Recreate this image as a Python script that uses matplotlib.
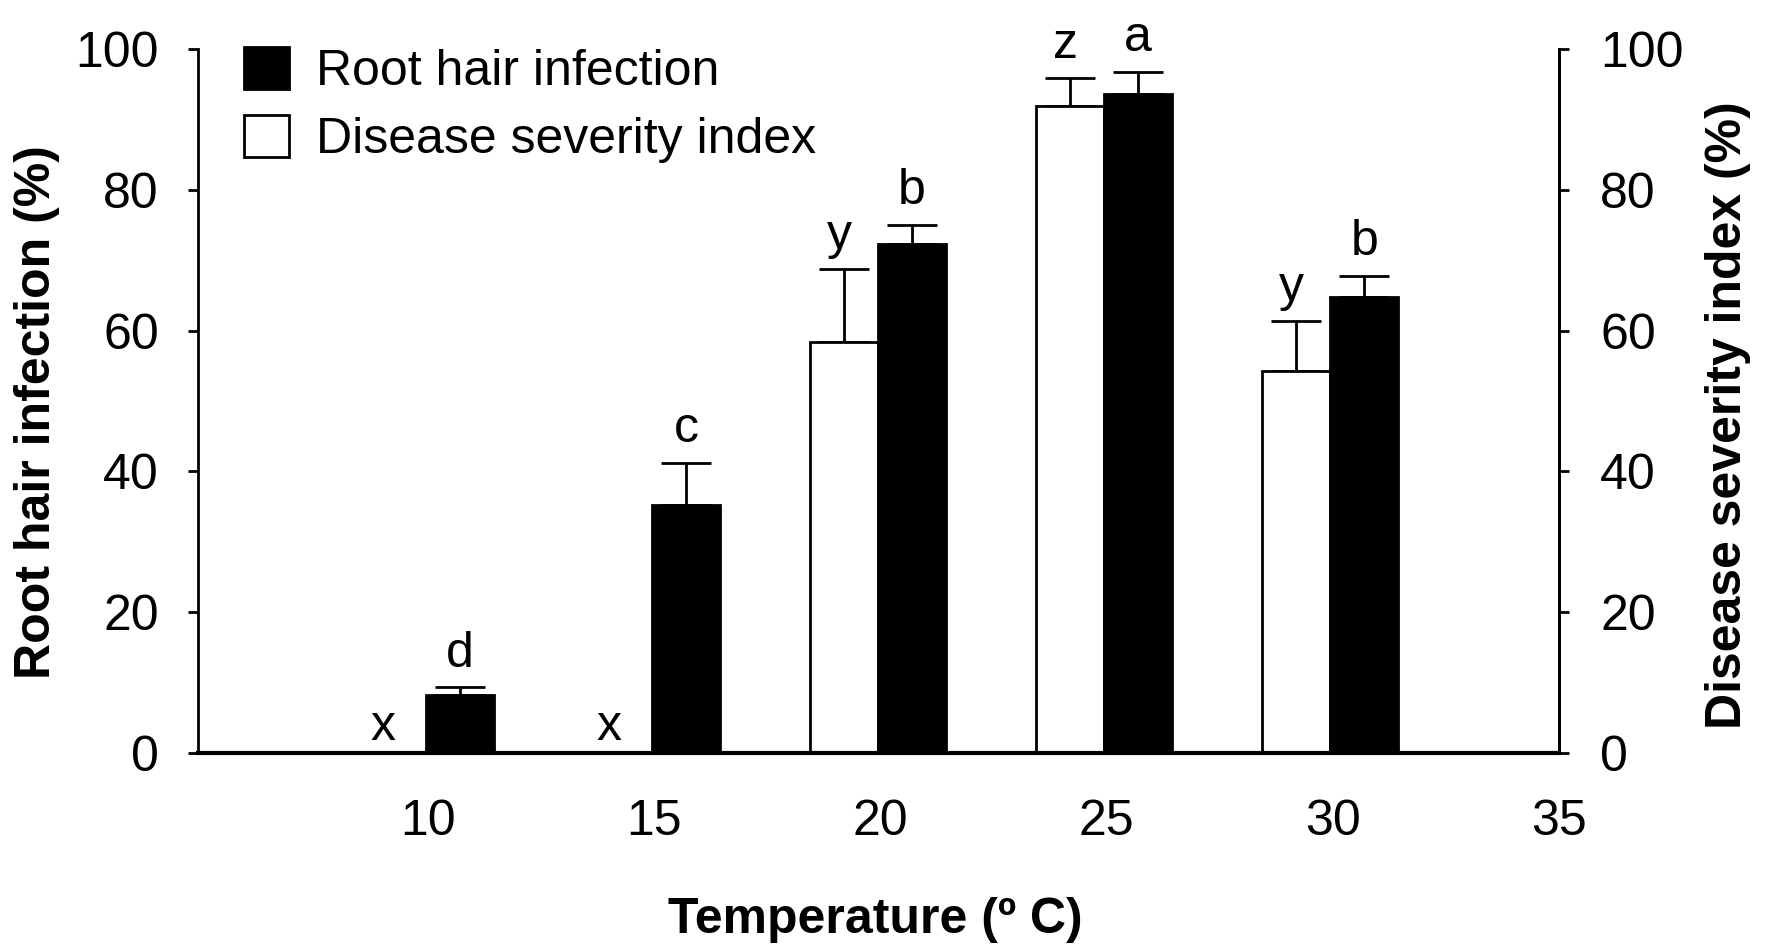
import numpy as np
import matplotlib.pyplot as plt
from matplotlib.patches import Patch

plt.rcParams['font.family'] = ['Liberation Sans', 'DejaVu Sans']

temps = np.array([10, 15, 20, 25, 30])
root_hair = np.array([8.3, 35.3, 72.3, 93.6, 64.8])
root_hair_err = np.array([1.1, 5.9, 2.7, 3.1, 3.0])
severity = np.array([0.0, 0.0, 58.4, 91.8, 54.3])
severity_err = np.array([0.0, 0.0, 10.3, 4.0, 7.0])
root_letters = ['d', 'c', 'b', 'a', 'b']
sev_letters = ['x', 'x', 'y', 'z', 'y']
xticks = [10, 15, 20, 25, 30, 35]
yticks = [0, 20, 40, 60, 80, 100]

fig = plt.figure(figsize=(17.71, 9.46), dpi=100)
ax = fig.add_axes([0.1116, 0.2036, 0.7685, 0.745])

w = 1.5
x_white = temps - 0.8
x_black = temps + 0.7

ax.bar(x_white, severity, width=w, color='white', edgecolor='black', linewidth=2, zorder=2)
ax.bar(x_black, root_hair, width=w, color='black', edgecolor='black', linewidth=2, zorder=2)

m = severity_err > 0
ax.errorbar(x_white[m], severity[m], yerr=[np.zeros(m.sum()), severity_err[m]],
            fmt='none', ecolor='black', elinewidth=2, capsize=18, capthick=2, zorder=1)
ax.errorbar(x_black, root_hair, yerr=[np.zeros(len(temps)), root_hair_err],
            fmt='none', ecolor='black', elinewidth=2, capsize=18, capthick=2, zorder=1)

# letters above bars
fs_letter = 36
for xi, v, e, s in zip(x_black, root_hair, root_hair_err, root_letters):
    ax.text(xi, v + e + 1.5, s, ha='center', va='bottom', fontsize=fs_letter)
for xi, v, e, s in zip(x_white, severity, severity_err, sev_letters):
    if v > 0:
        ax.text(xi - 0.1, v + e + 1.5, s, ha='center', va='bottom', fontsize=fs_letter)
    else:
        ax.text(xi - 0.2, 0.5, s, ha='center', va='bottom', fontsize=fs_letter)

ax.set_xlim(4.9, 35)
ax.set_ylim(0, 100)
ax.set_xticks(xticks)
ax.set_yticks(yticks)
ax.tick_params(axis='x', length=0, pad=33, labelsize=36)
ax.tick_params(axis='y', direction='out', length=7, width=2, labelsize=36, pad=21)
ax.spines['top'].set_visible(False)
ax.spines['right'].set_linewidth(2)
ax.spines['left'].set_linewidth(2)
ax.spines['bottom'].set_linewidth(3)

ax2 = ax.twinx()
ax2.set_ylim(0, 100)
ax2.set_yticks(yticks)
ax2.tick_params(axis='y', direction='out', length=7, width=2, labelsize=36, pad=23)
for s in ['top', 'left', 'bottom']:
    ax2.spines[s].set_visible(False)
ax2.spines['right'].set_linewidth(2)

fig.text(0.494, 1 - 920 / 946, 'Temperature (º C)', fontsize=36, fontweight='bold',
         ha='center', va='center')
fig.text(37 / 1771, 1 - 412 / 946, 'Root hair infection (%)', fontsize=36,
         fontweight='bold', rotation=90, ha='center', va='center')
fig.text(1728 / 1771, 1 - 415 / 946, 'Disease severity index (%)', fontsize=36,
         fontweight='bold', rotation=90, ha='center', va='center')

handles = [Patch(facecolor='black', edgecolor='black', linewidth=2),
           Patch(facecolor='white', edgecolor='black', linewidth=2)]
ax.legend(handles, ['Root hair infection', 'Disease severity index'],
          loc='upper left', bbox_to_anchor=(0.019, 1.03), frameon=False,
          fontsize=36, handlelength=0.9, handleheight=0.9, handletextpad=0.55,
          labelspacing=0.4, borderaxespad=0)

fig.savefig('out.png', dpi=100)
